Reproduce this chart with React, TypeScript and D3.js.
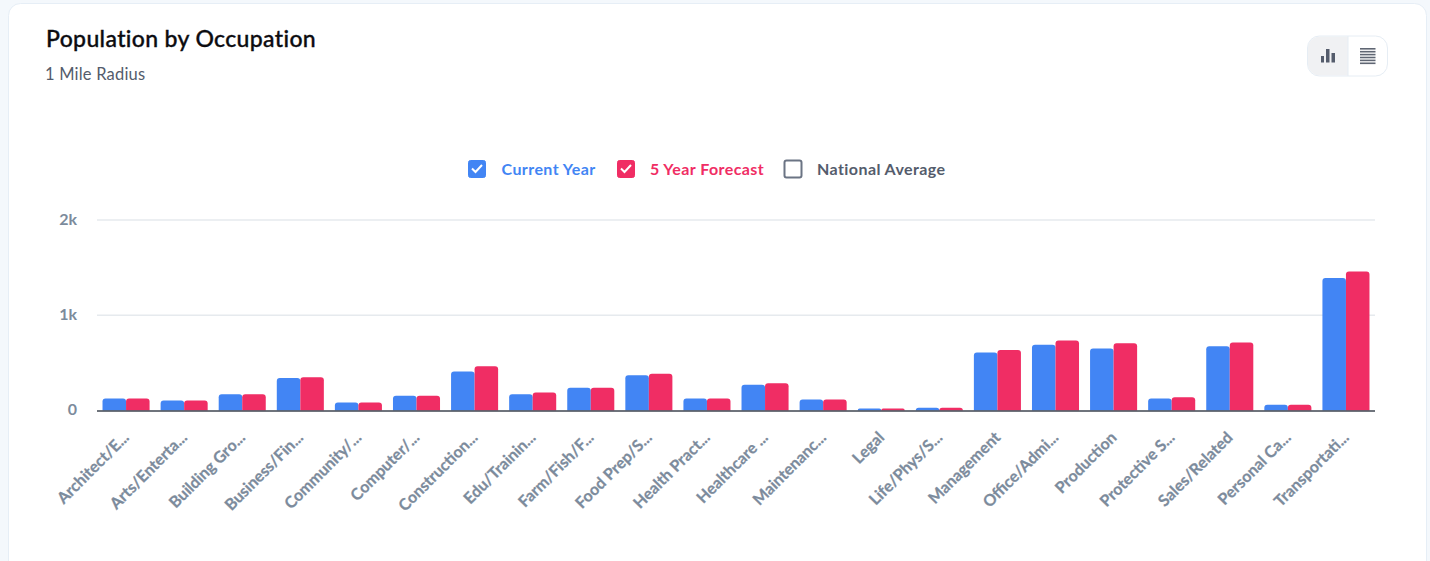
import React, { useRef, useEffect } from "react";
import * as d3 from "d3";

const categories = [
  "Architect/E...", "Arts/Enterta...", "Building Gro...", "Business/Fin...", "Community/...",
  "Computer/...", "Construction...", "Edu/Trainin...", "Farm/Fish/F...", "Food Prep/S...",
  "Health Pract...", "Healthcare ...", "Maintenanc...", "Legal", "Life/Phys/S...",
  "Management", "Office/Admi...", "Production", "Protective S...", "Sales/Related",
  "Personal Ca...", "Transportati...",
];
const currentYear = [125, 105, 170, 340, 85, 155, 410, 170, 240, 370, 125, 270, 115, 20, 30, 610, 690, 650, 125, 675, 60, 1390];
const forecast = [125, 105, 170, 350, 85, 155, 465, 190, 240, 385, 125, 285, 115, 20, 30, 635, 735, 705, 140, 715, 60, 1460];
const yTicks = [0, 1000, 2000];
const seriesNames = ["Current Year", "5 Year Forecast", "National Average"];

const BLUE = "#4285f4";
const RED = "#f02d64";
const SLATE = "#545c6c";
const TICK = "#7c8b9c";
const FONT = "Lato, sans-serif";

// bar with only the top corners rounded
const topRounded = (x: number, y: number, w: number, h: number, r: number) => {
  const rr = Math.min(r, h);
  return `M${x},${y + h}V${y + rr}Q${x},${y} ${x + rr},${y}H${x + w - rr}Q${x + w},${y} ${x + w},${y + rr}V${y + h}Z`;
};

export default function App() {
  const svgRef = useRef<SVGSVGElement>(null);

  useEffect(() => {
    const svg = d3.select(svgRef.current);
    svg.selectAll("*").remove();
    const w = 1430, h = 561;

    // card
    svg.append("rect").attr("width", w).attr("height", h).attr("fill", "#f4f8fc");
    svg.append("rect").attr("x", 8.5).attr("y", 3.5).attr("width", 1418).attr("height", 580).attr("rx", 12)
      .attr("fill", "#fff").attr("stroke", "#e6eef6");

    // header
    svg.append("text").attr("x", 46).attr("y", 47).text("Population by Occupation")
      .attr("font-family", FONT).attr("font-size", 23).attr("font-weight", 500).attr("fill", "#0c0c10")
      .attr("stroke", "#0c0c10").attr("stroke-width", 0.35).attr("letter-spacing", 0.35);
    svg.append("text").attr("x", 45).attr("y", 80).text("1 Mile Radius")
      .attr("font-family", FONT).attr("font-size", 16.5).attr("fill", SLATE).attr("letter-spacing", 0.2);

    // chart / table toggle
    const toggle = svg.append("g");
    toggle.append("path").attr("d", "M1348,36.5H1320a12,12 0 0 0 -12,12V63.5a12,12 0 0 0 12,12H1348Z").attr("fill", "#f0f1f3");
    toggle.append("rect").attr("x", 1307.5).attr("y", 36).attr("width", 80).attr("height", 40).attr("rx", 12)
      .attr("fill", "none").attr("stroke", "#e6edf4");
    toggle.append("line").attr("x1", 1348).attr("x2", 1348).attr("y1", 36).attr("y2", 76).attr("stroke", "#e6edf4");
    [[1321, 56, 3, 6.5], [1326, 49, 3.5, 13.5], [1331.5, 53, 3.5, 9.5]].forEach(([x, y, bw, bh]) => {
      toggle.append("rect").attr("x", x).attr("y", y).attr("width", bw).attr("height", bh).attr("fill", SLATE);
    });
    d3.range(6).forEach((i) => {
      toggle.append("rect").attr("x", 1360).attr("y", 48 + i * 2.9).attr("width", 15.5).attr("height", 1.6).attr("fill", "#5f6673");
    });

    // legend
    const legend = svg.append("g").attr("font-family", FONT).attr("font-size", 16).attr("font-weight", 700).attr("letter-spacing", 0.42);
    const items = [
      { x: 468.5, tx: 501.5, color: BLUE, box: BLUE, on: true },
      { x: 617.5, tx: 650, color: RED, box: RED, on: true },
      { x: 784.5, tx: 817, color: SLATE, box: "#6b7484", on: false },
    ];
    items.forEach((it, i) => {
      legend.append("rect").attr("x", it.x).attr("y", 160.5).attr("width", 17).attr("height", 17).attr("rx", 2)
        .attr("fill", it.on ? it.box : "#fff").attr("stroke", it.box).attr("stroke-width", it.on ? 1 : 2);
      if (it.on) {
        legend.append("path").attr("d", `M${it.x + 3.5},${168.5}l3.5,3.5l6.5,-7`)
          .attr("fill", "none").attr("stroke", "#fff").attr("stroke-width", 2);
      }
      legend.append("text").attr("x", it.tx).attr("y", 175).text(seriesNames[i]).attr("fill", it.color);
    });

    // scales
    const x0 = d3.scaleBand<string>().domain(categories).range([97, 1375]).paddingInner(0.19).paddingOuter(0.095);
    const x1 = d3.scaleBand<string>().domain(["current", "forecast"]).range([0, x0.bandwidth()]);
    const y = d3.scaleLinear().domain([0, 2000]).range([410.5, 220]);

    // grid
    svg.append("g").selectAll("line").data(yTicks.slice(1)).join("line")
      .attr("x1", 97).attr("x2", 1375).attr("y1", (d) => y(d)).attr("y2", (d) => y(d))
      .attr("stroke", "#e6eaee").attr("stroke-width", 1.4);

    // y axis labels
    const yAxis = d3.axisLeft(y).tickValues(yTicks).tickSize(0).tickPadding(0)
      .tickFormat((d) => (+d === 0 ? "0" : `${+d / 1000}k`));
    const yG = svg.append("g").attr("transform", "translate(77,0)").call(yAxis);
    yG.select(".domain").remove();
    yG.selectAll("text").attr("font-family", FONT).attr("font-size", 16).attr("font-weight", 700)
      .attr("fill", TICK).attr("dy", "0.25em");

    // bars
    const groups = svg.append("g").selectAll("g").data(categories).join("g")
      .attr("transform", (d) => `translate(${x0(d)},0)`);
    groups.append("path").attr("fill", BLUE).attr("d", (_, i) =>
      topRounded(x1("current")!, y(currentYear[i]), x1.bandwidth(), y(0) - y(currentYear[i]), 3));
    groups.append("path").attr("fill", RED).attr("d", (_, i) =>
      topRounded(x1("forecast")!, y(forecast[i]), x1.bandwidth(), y(0) - y(forecast[i]), 3));

    // x axis
    const xAxis = d3.axisBottom(x0).tickSize(0).tickPadding(0);
    const xG = svg.append("g").attr("transform", "translate(0,410.5)").call(xAxis);
    xG.select(".domain").attr("stroke", "#3f4650").attr("stroke-width", 1.4).attr("d", "M97,0.5H1375");
    xG.selectAll("text")
      .attr("font-family", FONT).attr("font-size", 16).attr("font-weight", 700).attr("fill", TICK)
      .attr("stroke", TICK).attr("stroke-width", 0.25)
      .attr("text-anchor", "end").attr("dy", 0).attr("y", 0)
      .attr("transform", "translate(4,28) rotate(-45)");
  }, []);

  return (
    <svg ref={svgRef} width={1430} height={561} style={{ position: "absolute", left: 0, top: 0 }} />
  );
}
